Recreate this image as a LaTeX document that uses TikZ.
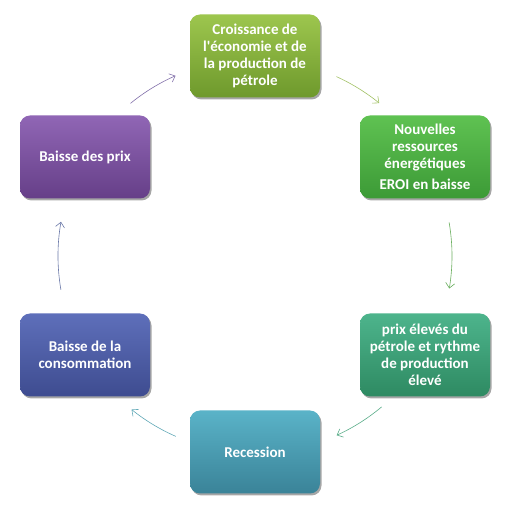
\documentclass[tikz,border=0pt]{standalone}
\usepackage{fontspec}
\setmainfont{Carlito}
\usetikzlibrary{arrows.meta,shadows}
\definecolor{c1t}{HTML}{9DC64E}\definecolor{c1b}{HTML}{6E992C}
\definecolor{c2t}{HTML}{5FC252}\definecolor{c2b}{HTML}{3C9A36}
\definecolor{c3t}{HTML}{4DB48C}\definecolor{c3b}{HTML}{2E8A62}
\definecolor{c4t}{HTML}{5AB3C8}\definecolor{c4b}{HTML}{3A8398}
\definecolor{c5t}{HTML}{5E6FBA}\definecolor{c5b}{HTML}{3E4C90}
\definecolor{c6t}{HTML}{9066B5}\definecolor{c6b}{HTML}{663F88}
\definecolor{a1}{HTML}{A3C266}\definecolor{a2}{HTML}{6AAF5E}
\definecolor{a3}{HTML}{5BAE8A}\definecolor{a4}{HTML}{62A9B8}
\definecolor{a5}{HTML}{6A78A8}\definecolor{a6}{HTML}{8270AA}
\tikzset{
  box/.style={rectangle, rounded corners=10pt, minimum width=130pt, minimum height=83pt,
    align=center, text=white, font=\fontsize{15}{17}\selectfont\bfseries,
    drop shadow={shadow xshift=1.5pt, shadow yshift=-2pt, opacity=0.35, fill=black}},
  arr/.style={line width=0.6pt, -{Straight Barb[length=5pt,width=9pt]}}
}
\begin{document}
\begin{tikzpicture}[x=1pt,y=1pt]
\useasboundingbox (0,0) rectangle (511,512);
\fill[white] (0,0) rectangle (511,512);
\coordinate (c) at (255,256);
\node[box, top color=c1t, bottom color=c1b] (n1) at (255,456) {Croissance de\\l\textquotesingle économie et de\\la production de\\pétrole};
\node[box, top color=c2t, bottom color=c2b] (n2) at (425,355) {Nouvelles\\ressources\\énergétiques\\[4pt]EROI en baisse};
\node[box, top color=c3t, bottom color=c3b] (n3) at (425,157) {prix élevés du\\pétrole et rythme\\de production\\élevé};
\node[box, top color=c4t, bottom color=c4b] (n4) at (255,60) {Recession};
\node[box, top color=c5t, bottom color=c5b] (n5) at (85,157) {Baisse de la\\consommation};
\node[box, top color=c6t, bottom color=c6b] (n6) at (85,355) {Baisse des prix};
\coordinate (s1) at ([shift={(65.6:197)}]c);
\coordinate (s2) at ([shift={(9.8:197)}]c);
\coordinate (s3) at ([shift={(-50:197)}]c);
\coordinate (s4) at ([shift={(246.3:197)}]c);
\coordinate (s5) at ([shift={(189.9:197)}]c);
\coordinate (s6) at ([shift={(129.2:197)}]c);
\draw[arr, a1] (s1) arc[start angle=65.6, end angle=50.9, radius=197];
\draw[arr, a2] (s2) arc[start angle=9.8, end angle=-9.5, radius=197];
\draw[arr, a3] (s3) arc[start angle=-50, end angle=-65.5, radius=197];
\draw[arr, a4] (s4) arc[start angle=246.3, end angle=231.2, radius=197];
\draw[arr, a5] (s5) arc[start angle=189.9, end angle=170, radius=197];
\draw[arr, a6] (s6) arc[start angle=129.2, end angle=113.8, radius=197];
\end{tikzpicture}
\end{document}
